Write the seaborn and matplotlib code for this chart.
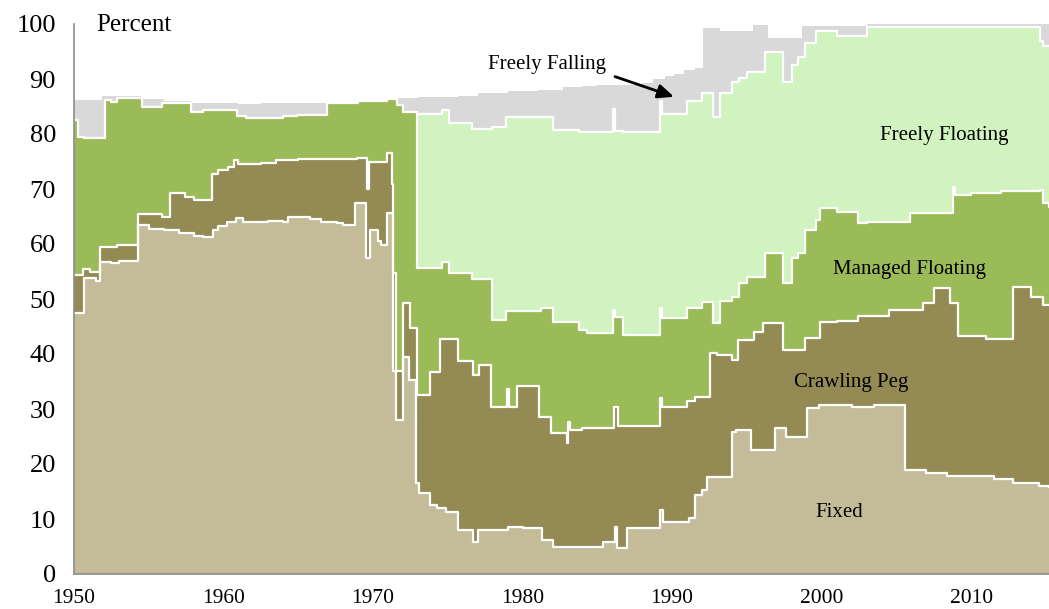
import numpy as np
import pandas as pd
import seaborn as sns
import matplotlib.pyplot as plt

# Upper edge of each stacked layer (percent)
fixed_years = [1950.0, 1950.7, 1951.5, 1951.75, 1952.5, 1953.0, 1954.25, 1955.0, 1956.0, 1957.0,
               1958.0, 1958.6, 1959.3, 1959.6, 1960.2, 1960.8, 1961.3, 1963.0, 1964.0, 1964.3,
               1965.8, 1966.5, 1967.6, 1968.0, 1968.8, 1969.5, 1969.8, 1970.3, 1970.5, 1970.9,
               1971.3, 1971.5, 1972.0, 1972.4, 1972.9, 1973.1, 1973.8, 1974.3, 1974.9, 1975.7,
               1976.7, 1977.0, 1979.0, 1980.0, 1981.3, 1982.0, 1983.0, 1985.4, 1986.2, 1986.3,
               1987.0, 1989.2, 1989.4, 1991.1, 1991.5, 1992.0, 1992.3, 1994.0, 1994.3, 1995.3,
               1996.9, 1997.6, 1999.0, 1999.8, 2002.0, 2003.5, 2005.6, 2007.0, 2008.4, 2011.5,
               2012.8, 2014.5, 2015.2]
fixed_top = [47.5, 53.8, 53.2, 56.8, 56.5, 57.0, 63.5, 62.8, 62.5, 62.0,
             61.5, 61.3, 62.6, 63.2, 64.0, 64.8, 64.0, 64.2, 64.0, 65.0,
             64.5, 64.0, 63.8, 63.4, 67.5, 57.5, 62.5, 60.5, 59.8, 65.6,
             37.0, 28.0, 39.5, 35.3, 16.5, 14.7, 12.5, 12.0, 11.3, 8.0,
             5.8, 8.0, 8.5, 8.3, 6.2, 4.9, 5.0, 5.8, 8.5, 4.7,
             8.4, 11.6, 9.5, 10.2, 14.4, 15.3, 17.6, 25.8, 26.2, 22.5,
             26.5, 25.0, 30.2, 30.8, 30.4, 30.7, 18.9, 18.4, 17.8, 17.3,
             16.5, 16.0, 15.8]

crawl_years = [1950.0, 1950.6, 1951.1, 1951.75, 1952.9, 1954.25, 1955.9, 1956.4, 1957.4, 1958.0,
               1959.2, 1959.6, 1960.3, 1960.7, 1961.0, 1962.5, 1963.5, 1965.0, 1968.9, 1969.6,
               1969.7, 1970.9, 1971.25, 1971.35, 1971.5, 1972.0, 1972.45, 1972.95, 1973.8, 1974.5,
               1975.7, 1976.7, 1977.1, 1977.9, 1978.95, 1979.1, 1979.6, 1981.1, 1981.9, 1982.95,
               1983.05, 1983.2, 1984.0, 1986.1, 1986.4, 1989.2, 1989.35, 1991.0, 1991.5, 1992.5,
               1993.0, 1994.0, 1994.4, 1995.5, 1996.1, 1997.4, 1998.9, 1999.9, 2001.0, 2002.4,
               2004.5, 2006.8, 2007.5, 2008.6, 2009.1, 2011.0, 2012.8, 2014.0, 2014.8, 2015.2]
crawl_top = [54.4, 55.5, 55.0, 59.4, 59.9, 65.5, 65.0, 69.3, 68.5, 68.0,
             72.8, 73.5, 74.0, 75.2, 74.6, 74.8, 75.2, 75.4, 75.6, 70.0,
             75.0, 76.5, 71.0, 54.7, 37.0, 49.3, 44.7, 32.5, 36.7, 42.7,
             38.7, 36.2, 38.0, 30.4, 33.6, 30.4, 34.2, 28.6, 25.6, 23.8,
             27.6, 26.2, 26.5, 30.4, 27.0, 32.0, 30.4, 31.5, 32.2, 40.1,
             39.8, 38.9, 42.5, 44.0, 45.6, 40.7, 42.9, 45.8, 46.0, 47.0,
             48.0, 49.2, 52.0, 49.2, 43.3, 42.8, 52.2, 50.4, 49.0, 49.0]

managed_years = [1950.0, 1950.3, 1950.7, 1952.1, 1952.5, 1952.9, 1954.55, 1955.9, 1957.8, 1958.6,
                 1960.9, 1961.5, 1962.9, 1964.0, 1964.9, 1966.9, 1969.0, 1970.9, 1971.6, 1972.0,
                 1972.94, 1974.6, 1975.1, 1976.6, 1977.95, 1978.9, 1981.2, 1982.0, 1983.8, 1984.3,
                 1986.05, 1986.2, 1986.7, 1989.2, 1989.35, 1991.0, 1992.0, 1992.7, 1993.2, 1994.0,
                 1994.5, 1995.0, 1996.2, 1997.4, 1998.0, 1998.4, 1998.9, 1999.6, 1999.9, 2001.0,
                 2002.4, 2003.0, 2005.9, 2008.8, 2008.9, 2010.0, 2012.0, 2014.6, 2014.8, 2015.2]
managed_top = [82.5, 79.5, 79.2, 86.2, 85.8, 86.5, 84.9, 85.6, 84.0, 84.4,
               83.3, 83.0, 82.9, 83.2, 83.5, 85.6, 86.0, 86.3, 85.3, 84.0,
               55.6, 56.7, 54.7, 53.6, 46.2, 47.8, 48.4, 45.8, 44.4, 43.8,
               48.0, 46.7, 43.5, 48.4, 46.5, 48.4, 49.5, 45.6, 49.6, 50.4,
               53.0, 54.0, 58.4, 52.9, 57.5, 58.4, 62.5, 64.4, 66.5, 65.8,
               63.8, 64.0, 65.6, 70.4, 69.0, 69.3, 69.6, 69.8, 67.5, 66.8]

floating_years = [1972.94, 1974.6, 1975.1, 1976.6, 1977.95, 1978.9, 1982.0, 1983.8, 1986.05, 1986.2,
                  1986.7, 1989.2, 1989.35, 1991.0, 1992.0, 1992.7, 1993.2, 1994.0, 1994.5, 1995.0,
                  1996.2, 1997.4, 1998.0, 1998.4, 1998.9, 1999.6, 2001.0, 2003.0, 2014.6, 2014.8,
                  2015.2]
floating_top = [83.6, 84.4, 82.0, 81.0, 81.3, 83.1, 80.7, 80.4, 84.5, 80.6,
                80.4, 86.0, 83.6, 86.0, 87.4, 83.1, 87.4, 89.4, 90.2, 91.3,
                95.0, 89.4, 92.5, 94.0, 96.5, 98.7, 97.8, 99.5, 97.0, 96.0,
                96.0]

falling_years = [1950.0, 1951.9, 1954.5, 1956.0, 1957.8, 1961.0, 1962.5, 1969.0, 1970.9, 1971.3,
                 1973.0, 1975.7, 1977.0, 1979.0, 1981.0, 1982.7, 1984.0, 1985.0, 1988.0, 1988.7,
                 1989.5, 1990.1, 1990.8, 1991.5, 1992.05, 1993.2, 1995.4, 1996.4, 1998.7, 2003.0,
                 2015.2]
falling_top = [86.2, 86.9, 86.3, 86.0, 85.6, 85.4, 85.6, 86.0, 86.3, 86.5,
               86.7, 87.0, 87.4, 87.8, 88.0, 88.5, 88.7, 88.9, 89.2, 90.0,
               90.5, 91.0, 91.6, 92.0, 99.3, 98.8, 99.8, 97.5, 99.6, 100.0,
               100.0]

layers = [
    ("Freely Falling", falling_years, falling_top, "#D9D9D9"),
    ("Freely Floating", floating_years, floating_top, "#D0F3C0"),
    ("Managed Floating", managed_years, managed_top, "#9BBB59"),
    ("Crawling Peg", crawl_years, crawl_top, "#948A54"),
    ("Fixed", fixed_years, fixed_top, "#C4BC98"),
]

sns.set_theme(style="white")
plt.rcParams["font.family"] = ["Liberation Serif", "DejaVu Serif"]
plt.rcParams["text.color"] = "black"

fig = plt.figure(figsize=(10.49, 6.09), dpi=100)
ax = fig.add_axes([74 / 1049, 35 / 609, 975 / 1049, 550 / 609])

# areas painted from the top layer down, each from zero to its upper edge
for name, yrs, top, col in layers:
    ax.fill_between(yrs, 0, top, step="post", color=col, linewidth=0)

# white step lines between the layers
for name, yrs, top, col in layers[1:]:
    df = pd.DataFrame({"year": yrs, "pct": top})
    sns.lineplot(data=df, x="year", y="pct", ax=ax, color="white", lw=1.6,
                 drawstyle="steps-post", estimator=None, sort=False)

ax.set_xlim(1950, 2015.2)
ax.set_ylim(0, 100)
ax.set_xticks(range(1950, 2011, 10))
ax.set_yticks(range(0, 101, 10))
ax.set_xlabel("")
ax.set_ylabel("")
ax.tick_params(axis="x", labelsize=15.5, length=6, width=1.1, color="#8C8C8C",
               labelcolor="black", pad=5)
ax.tick_params(axis="y", labelsize=19, length=7, width=1.1, color="#8C8C8C",
               labelcolor="black", pad=6)
for side in ["top", "right"]:
    ax.spines[side].set_visible(False)
for side in ["left", "bottom"]:
    ax.spines[side].set_color("#8C8C8C")
    ax.spines[side].set_linewidth(1.2)

ax.text(1951.5, 99.8, "Percent", fontsize=18, va="center", ha="left")
ax.text(1981.6, 92.7, "Freely Falling", fontsize=15, va="center", ha="center")
ax.annotate("", xy=(1990.3, 86.6), xytext=(1986.0, 90.6),
            arrowprops=dict(arrowstyle="-|>,head_length=0.8,head_width=0.35",
                            color="black", lw=2))
ax.text(2008.2, 79.8, "Freely Floating", fontsize=15, va="center", ha="center")
ax.text(2005.9, 55.4, "Managed Floating", fontsize=15, va="center", ha="center")
ax.text(2002.0, 34.9, "Crawling Peg", fontsize=15, va="center", ha="center")
ax.text(2001.2, 11.1, "Fixed", fontsize=15, va="center", ha="center")

fig.savefig("out.png", dpi=100)
